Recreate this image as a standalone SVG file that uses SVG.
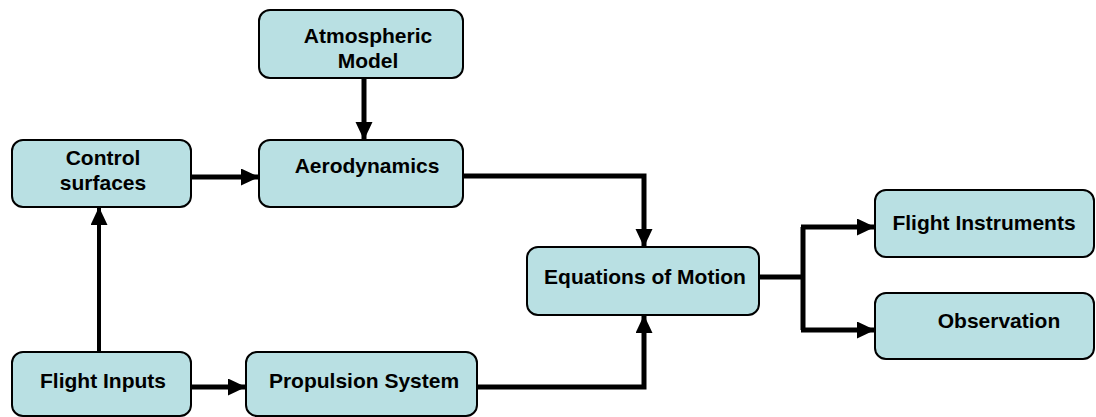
<svg xmlns="http://www.w3.org/2000/svg" width="1096" height="417" viewBox="0 0 1096 417">
<style>
.box{fill:#b9e0e3;stroke:#000;stroke-width:2}
.lbl{font-family:"Liberation Sans",Arial,sans-serif;font-weight:bold;font-size:21px;fill:#000;text-anchor:middle}
.c{fill:none;stroke:#000;stroke-width:5;stroke-linejoin:miter}
.t{fill:none;stroke:#000;stroke-width:4}
</style>
<defs>
<marker id="ah" markerUnits="userSpaceOnUse" markerWidth="19" markerHeight="18" refX="18" refY="8.5" orient="auto" viewBox="0 0 19 18">
<path d="M0,0 L18,8.5 L0,17 z" fill="#000"/>
</marker>
</defs>
<rect width="1096" height="417" fill="#fff"/>
<g id="connectors">
<path class="c" d="M364,78 V140" marker-end="url(#ah)"/>
<path class="c" d="M191,177 H259" marker-end="url(#ah)"/>
<path class="t" d="M99,352 V207" marker-end="url(#ah)"/>
<path class="c" d="M191,387 H246" marker-end="url(#ah)"/>
<path class="c" d="M463,176 H644 V247" marker-end="url(#ah)"/>
<path class="c" d="M477,387 H644 V315" marker-end="url(#ah)"/>
<path class="c" d="M759,277 H803"/>
<path class="c" d="M803,227 V330"/>
<path class="c" d="M801,227 H875" marker-end="url(#ah)"/>
<path class="c" d="M801,330 H875" marker-end="url(#ah)"/>
</g>
<g id="atmospheric">
<rect class="box" x="259" y="10" width="204" height="68" rx="11"/>
<text class="lbl" x="368" y="43">Atmospheric</text>
<text class="lbl" x="368" y="68">Model</text>
</g>
<g id="aerodynamics">
<rect class="box" x="259" y="140" width="204" height="67" rx="11"/>
<text class="lbl" x="367" y="173">Aerodynamics</text>
</g>
<g id="control">
<rect class="box" x="12" y="140" width="179" height="67" rx="11"/>
<text class="lbl" x="103" y="165">Control</text>
<text class="lbl" x="103" y="190">surfaces</text>
</g>
<g id="flightinputs">
<rect class="box" x="12" y="352" width="179" height="64" rx="11"/>
<text class="lbl" x="103" y="388">Flight Inputs</text>
</g>
<g id="propulsion">
<rect class="box" x="246" y="352" width="231" height="64" rx="11"/>
<text class="lbl" x="364" y="388">Propulsion System</text>
</g>
<g id="equations">
<rect class="box" x="527" y="247" width="232" height="68" rx="11"/>
<text class="lbl" x="645" y="284">Equations of Motion</text>
</g>
<g id="instruments">
<rect class="box" x="875" y="190" width="219" height="67" rx="11"/>
<text class="lbl" x="984" y="230">Flight Instruments</text>
</g>
<g id="observation">
<rect class="box" x="875" y="293" width="219" height="66" rx="11"/>
<text class="lbl" x="999" y="328">Observation</text>
</g>
</svg>
